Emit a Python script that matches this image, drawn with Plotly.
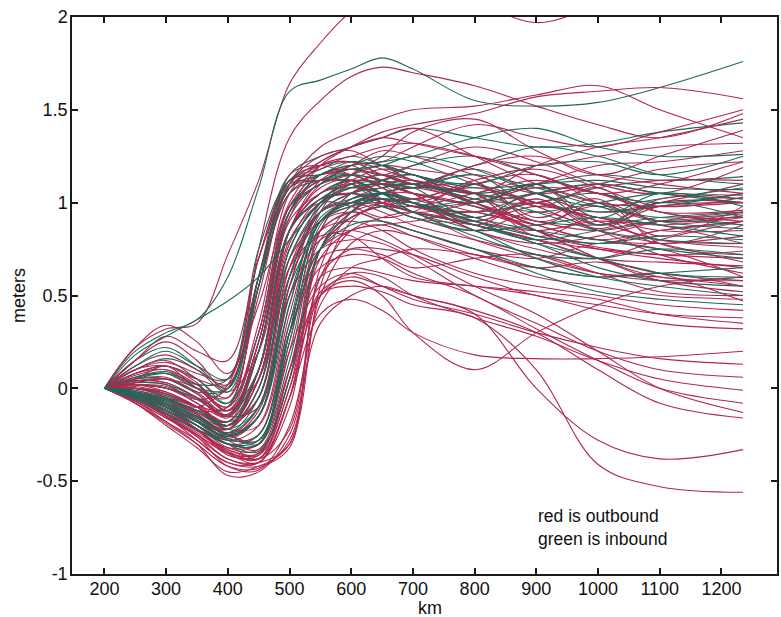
import plotly.graph_objects as go

# distance along track (km) at which each profile is sampled
km = [200, 250, 300, 350, 400, 450, 500, 550, 600, 650, 700, 800, 900, 1000, 1100, 1235]

# outbound profiles (red), meters
outbound = [
    [0, 0.22, 0.32, 0.35, 0.72, 1.12, 1.64, 1.86, 2.03, 2.12, 2.16, 2.08, 1.97, 2.06, 2.15, 2.22],
    [0, 0.05, 0.12, 0.0, -0.05, 0.75, 1.35, 1.55, 1.68, 1.73, 1.70, 1.63, 1.52, 1.42, 1.35, 1.48],
    [0, -0.02, -0.08, -0.12, -0.1, 0.55, 1.1, 1.3, 1.38, 1.45, 1.5, 1.52, 1.58, 1.63, 1.5, 1.35],
    [0, 0.03, 0.02, -0.08, -0.15, 0.25, 0.95, 1.2, 1.3, 1.38, 1.42, 1.48, 1.57, 1.6, 1.62, 1.56],
    [0, -0.05, -0.1, -0.18, -0.22, 0.0, 0.85, 1.1, 1.2, 1.22, 1.3, 1.42, 1.35, 1.3, 1.38, 1.50],
    [0, 0.1, 0.15, 0.05, -0.05, 0.5, 1.1, 1.25, 1.28, 1.2, 1.15, 1.05, 1.2, 1.3, 1.35, 1.45],
    [0, -0.03, -0.1, -0.2, -0.28, -0.2, 0.45, 0.95, 1.15, 1.25, 1.38, 1.45, 1.28, 1.15, 1.25, 1.39],
    [0, 0.0, -0.04, -0.1, -0.1, 0.6, 1.15, 1.2, 1.15, 1.1, 1.05, 1.0, 1.1, 1.2, 1.22, 1.28],
    [0, -0.06, -0.15, -0.25, -0.35, -0.35, 0.05, 0.85, 1.05, 1.12, 1.2, 1.3, 1.22, 1.1, 1.05, 1.19],
    [0, 0.12, 0.18, 0.1, 0.02, 0.55, 1.05, 1.15, 1.18, 1.15, 1.1, 1.18, 1.05, 0.95, 1.0, 1.1],
    [0, -0.04, -0.08, -0.15, -0.2, 0.05, 0.8, 1.0, 1.08, 1.1, 1.05, 0.88, 1.02, 0.86, 1.0, 1.0],
    [0, 0.02, 0.0, -0.06, 0.0, 0.6, 1.08, 1.12, 1.12, 1.05, 1.0, 1.1, 1.15, 1.0, 0.9, 0.95],
    [0, -0.08, -0.18, -0.28, -0.4, -0.4, -0.1, 0.75, 0.95, 1.02, 0.98, 0.9, 0.85, 0.9, 0.88, 0.92],
    [0, 0.06, 0.08, 0.0, -0.12, 0.1, 0.85, 1.05, 1.1, 1.15, 1.12, 1.05, 0.82, 0.92, 0.78, 0.88],
    [0, -0.02, -0.06, -0.12, -0.2, -0.05, 0.75, 1.0, 1.05, 0.98, 0.92, 0.85, 0.95, 0.85, 0.72, 0.62],
    [0, -0.05, -0.12, -0.2, -0.3, -0.3, 0.3, 0.9, 1.0, 1.05, 1.08, 1.0, 0.88, 0.8, 0.78, 0.82],
    [0, 0.1, 0.14, 0.08, 0.05, 0.7, 1.12, 1.15, 1.2, 1.1, 1.0, 0.92, 1.0, 0.9, 0.8, 0.78],
    [0, -0.03, -0.09, -0.18, -0.25, -0.1, 0.65, 0.95, 1.0, 0.95, 0.88, 0.8, 0.72, 0.62, 0.6, 0.55],
    [0, 0.0, -0.02, -0.1, -0.2, 0.1, 0.85, 1.0, 0.98, 0.92, 0.95, 1.1, 0.92, 1.02, 0.78, 0.72],
    [0, -0.07, -0.16, -0.25, -0.35, -0.4, -0.05, 0.6, 0.85, 0.92, 0.95, 0.88, 0.8, 0.75, 0.72, 0.7],
    [0, 0.04, 0.03, -0.05, -0.15, 0.25, 0.95, 1.1, 1.15, 1.2, 1.18, 1.12, 0.9, 0.98, 0.82, 0.98],
    [0, -0.02, -0.05, -0.1, -0.18, -0.05, 0.7, 0.95, 1.0, 1.02, 0.98, 0.95, 1.05, 1.1, 1.05, 1.02],
    [0, 0.15, 0.25, 0.15, -0.02, 0.2, 0.85, 1.05, 1.08, 1.05, 1.0, 0.85, 0.75, 0.7, 0.8, 0.9],
    [0, -0.06, -0.14, -0.24, -0.33, -0.35, 0.1, 0.75, 0.92, 0.98, 0.95, 0.8, 0.7, 0.62, 0.58, 0.6],
    [0, -0.03, -0.1, -0.2, -0.3, -0.25, 0.35, 0.75, 0.85, 0.88, 0.82, 0.7, 0.6, 0.55, 0.5, 0.48],
    [0, 0.02, -0.02, -0.1, -0.22, 0.0, 0.6, 0.85, 0.9, 0.85, 0.75, 0.62, 0.55, 0.5, 0.45, 0.42],
    [0, -0.08, -0.2, -0.32, -0.45, -0.42, -0.3, 0.6, 0.75, 0.75, 0.72, 0.6, 0.5, 0.45, 0.4, 0.38],
    [0, -0.05, -0.12, -0.22, -0.36, -0.36, 0.1, 0.6, 0.65, 0.62, 0.58, 0.55, 0.52, 0.48, 0.4, 0.35],
    [0, 0.08, 0.12, 0.03, -0.12, 0.05, 0.65, 0.82, 0.82, 0.7, 0.6, 0.55, 0.5, 0.42, 0.35, 0.32],
    [0, -0.04, -0.1, -0.18, -0.28, -0.25, 0.3, 0.7, 0.75, 0.72, 0.65, 0.7, 0.72, 0.62, 0.52, 0.5],
    [0, -0.06, -0.15, -0.25, -0.38, -0.4, -0.05, 0.4, 0.48, 0.42, 0.3, 0.18, 0.16, 0.16, 0.17, 0.2],
    [0, -0.02, -0.08, -0.18, -0.3, -0.3, 0.2, 0.55, 0.62, 0.55, 0.48, 0.4, 0.3, 0.22, 0.16, 0.13],
    [0, 0.03, 0.05, -0.02, -0.15, -0.1, 0.5, 0.75, 0.8, 0.78, 0.7, 0.5, 0.35, 0.2, 0.1, 0.06],
    [0, -0.05, -0.12, -0.22, -0.34, -0.38, 0.0, 0.5, 0.62, 0.6, 0.5, 0.38, 0.28, 0.15, 0.05, -0.01],
    [0, -0.03, -0.1, -0.2, -0.3, -0.3, 0.3, 0.65, 0.72, 0.7, 0.62, 0.5, 0.32, 0.15, 0.0, -0.08],
    [0, 0.0, -0.05, -0.14, -0.25, -0.15, 0.5, 0.8, 0.85, 0.8, 0.72, 0.55, 0.4, 0.2, 0.0, -0.13],
    [0, -0.07, -0.18, -0.3, -0.47, -0.45, -0.25, 0.35, 0.5, 0.55, 0.5, 0.42, 0.3, 0.1, -0.08, -0.16],
    [0, -0.04, -0.12, -0.22, -0.35, -0.38, 0.05, 0.52, 0.6, 0.55, 0.5, 0.4, 0.0, -0.28, -0.38, -0.33],
    [0, -0.06, -0.15, -0.28, -0.4, -0.42, -0.32, 0.5, 0.55, 0.52, 0.45, 0.38, 0.1, -0.41, -0.53, -0.56],
    [0, -0.05, -0.1, -0.2, -0.32, -0.33, 0.1, 0.5, 0.58, 0.5, 0.3, 0.1, 0.3, 0.45, 0.55, 0.6],
    [0, 0.05, 0.06, -0.03, -0.15, 0.2, 0.9, 1.05, 1.1, 1.02, 0.95, 1.0, 1.08, 1.05, 0.95, 0.9],
    [0, -0.01, -0.06, -0.13, -0.22, -0.2, 0.4, 0.9, 1.02, 1.08, 1.1, 1.0, 0.85, 0.7, 0.58, 0.52],
    [0, 0.22, 0.34, 0.25, 0.08, 0.45, 1.0, 1.2, 1.25, 1.3, 1.32, 1.25, 1.15, 1.05, 1.1, 1.22],
    [0, -0.04, -0.1, -0.16, -0.25, -0.28, 0.25, 0.85, 0.95, 1.0, 1.02, 1.08, 0.98, 0.85, 0.78, 0.68],
    [0, 0.02, 0.0, -0.08, -0.2, 0.05, 0.7, 0.9, 0.95, 0.9, 0.85, 0.75, 0.7, 0.78, 0.75, 0.6],
    [0, -0.06, -0.14, -0.22, -0.3, -0.38, -0.05, 0.7, 0.85, 0.88, 0.9, 0.95, 0.85, 0.75, 0.7, 0.65],
    [0, 0.08, 0.1, 0.02, -0.12, 0.2, 0.85, 1.02, 1.05, 1.1, 1.08, 1.2, 1.25, 1.15, 1.1, 1.05],
    [0, -0.02, -0.07, -0.14, -0.24, -0.15, 0.55, 0.95, 1.05, 1.12, 1.15, 1.0, 1.1, 0.88, 0.98, 1.0],
    [0, 0.0, -0.03, -0.1, -0.2, -0.05, 0.65, 0.9, 0.98, 1.0, 0.95, 0.9, 0.98, 0.92, 0.85, 0.85],
    [0, -0.05, -0.1, -0.18, -0.28, -0.33, 0.05, 0.75, 0.92, 0.98, 1.0, 0.85, 0.78, 0.82, 0.9, 0.95],
    [0, 0.03, 0.05, 0.0, -0.1, 0.35, 1.05, 1.22, 1.3, 1.35, 1.32, 1.25, 1.2, 1.25, 1.3, 1.32],
    [0, -0.03, -0.08, -0.15, -0.22, 0.1, 0.85, 1.12, 1.2, 1.28, 1.25, 1.15, 1.05, 1.1, 1.18, 1.22],
    [0, 0.15, 0.28, 0.2, 0.15, 0.7, 1.1, 1.22, 1.3, 1.35, 1.4, 1.25, 1.1, 1.0, 0.98, 1.0],
    [0, -0.02, -0.06, -0.1, 0.02, 0.6, 1.08, 1.2, 1.22, 1.15, 1.1, 1.0, 0.9, 0.85, 0.9, 0.92],
    [0, -0.07, -0.16, -0.26, -0.42, -0.44, -0.2, 0.45, 0.65, 0.7, 0.75, 0.72, 0.65, 0.6, 0.62, 0.55],
    [0, -0.04, -0.09, -0.17, -0.27, -0.15, 0.55, 0.98, 1.1, 1.15, 1.1, 1.05, 0.88, 1.0, 0.9, 0.93],
    [0, 0.07, 0.1, 0.0, -0.1, 0.3, 0.98, 1.15, 1.15, 1.08, 1.02, 1.12, 1.18, 1.08, 0.98, 1.03],
    [0, -0.05, -0.13, -0.23, -0.32, -0.3, 0.2, 0.85, 1.05, 1.1, 1.12, 1.0, 0.85, 0.78, 0.85, 0.9],
    [0, 0.01, -0.03, -0.1, -0.18, 0.1, 0.85, 1.08, 1.12, 1.0, 0.92, 0.88, 0.8, 0.7, 0.68, 0.66],
    [0, -0.02, -0.08, -0.16, -0.26, -0.12, 0.6, 1.0, 1.12, 1.18, 1.15, 1.05, 1.0, 0.9, 0.8, 0.76],
    [0, 0.04, 0.03, -0.05, -0.16, 0.2, 0.92, 1.15, 1.18, 1.12, 1.05, 0.9, 1.02, 0.88, 1.02, 1.04],
    [0, -0.06, -0.13, -0.22, -0.33, -0.36, 0.0, 0.75, 0.98, 1.05, 1.05, 0.98, 0.85, 0.7, 0.6, 0.58],
    [0, 0.02, 0.01, -0.06, -0.14, 0.25, 0.95, 1.12, 1.1, 1.0, 0.98, 1.05, 1.12, 1.05, 0.95, 0.96],
    [0, -0.03, -0.07, -0.13, -0.2, 0.05, 0.78, 1.02, 1.05, 1.02, 1.0, 0.92, 0.82, 0.76, 0.72, 0.74],
    [0, 0.1, 0.12, 0.05, 0.02, 0.6, 1.08, 1.18, 1.22, 1.18, 1.12, 1.02, 1.0, 1.08, 1.12, 1.12],
    [0, -0.05, -0.14, -0.26, -0.38, -0.4, -0.3, 0.55, 0.9, 1.0, 1.02, 0.95, 0.88, 0.8, 0.85, 0.9],
    [0, -0.03, -0.1, -0.22, -0.34, -0.38, -0.22, 0.65, 0.95, 1.05, 1.08, 1.1, 1.0, 0.92, 0.88, 0.78],
    [0, -0.08, -0.19, -0.3, -0.42, -0.43, -0.28, 0.5, 0.78, 0.85, 0.82, 0.72, 0.65, 0.68, 0.62, 0.47],
]

# inbound profiles (green), meters
inbound = [
    [0, 0.2, 0.3, 0.37, 0.6, 1.08, 1.6, 1.66, 1.72, 1.78, 1.72, 1.55, 1.52, 1.54, 1.62, 1.76],
    [0, 0.18, 0.28, 0.37, 0.47, 0.6, 0.8, 1.0, 1.15, 1.2, 1.15, 1.1, 1.2, 1.22, 1.15, 1.25],
    [0, 0.05, 0.08, 0.02, -0.08, 0.55, 1.15, 1.25, 1.3, 1.35, 1.4, 1.35, 1.3, 1.32, 1.38, 1.43],
    [0, -0.02, -0.06, -0.12, -0.18, 0.2, 0.95, 1.15, 1.2, 1.22, 1.25, 1.35, 1.4, 1.3, 1.25, 1.26],
    [0, 0.1, 0.16, 0.1, -0.02, 0.55, 1.12, 1.18, 1.25, 1.2, 1.12, 1.05, 1.1, 1.15, 1.12, 1.14],
    [0, -0.04, -0.1, -0.18, -0.26, -0.15, 0.6, 0.95, 1.05, 1.08, 1.1, 1.02, 0.95, 1.0, 1.05, 1.02],
    [0, 0.0, -0.03, -0.1, -0.18, 0.1, 0.85, 1.05, 1.12, 1.1, 1.05, 0.98, 0.9, 0.88, 0.92, 0.95],
    [0, -0.06, -0.14, -0.22, -0.3, -0.3, 0.3, 0.9, 0.98, 1.02, 1.0, 0.9, 0.78, 0.7, 0.62, 0.6],
    [0, 0.05, 0.05, -0.03, -0.15, 0.25, 0.95, 1.1, 1.15, 1.12, 1.08, 1.15, 0.98, 1.08, 0.88, 0.9],
    [0, -0.03, -0.08, -0.15, -0.22, -0.1, 0.6, 0.95, 1.02, 1.05, 1.0, 0.9, 0.82, 0.78, 0.82, 0.8],
    [0, 0.12, 0.2, 0.12, 0.05, 0.7, 1.1, 1.12, 1.18, 1.15, 1.2, 1.25, 1.15, 1.05, 1.0, 1.05],
    [0, -0.05, -0.12, -0.2, -0.28, -0.25, 0.35, 0.9, 1.0, 1.05, 1.02, 0.92, 0.85, 0.8, 0.75, 0.7],
    [0, 0.02, 0.0, -0.05, -0.12, 0.3, 0.98, 1.12, 1.15, 1.08, 1.0, 0.95, 1.0, 1.05, 0.95, 0.88],
    [0, -0.02, -0.07, -0.15, -0.25, -0.15, 0.5, 0.9, 1.0, 1.02, 0.95, 0.82, 0.72, 0.7, 0.75, 0.72],
    [0, 0.08, 0.12, 0.05, -0.08, 0.3, 0.98, 1.1, 1.2, 1.25, 1.22, 1.1, 1.0, 0.95, 0.98, 1.05],
    [0, -0.04, -0.1, -0.18, -0.27, -0.28, 0.3, 0.75, 0.88, 0.9, 0.85, 0.75, 0.65, 0.6, 0.62, 0.65],
    [0, 0.0, -0.04, -0.1, -0.2, 0.05, 0.75, 1.0, 1.05, 1.0, 0.95, 0.88, 0.8, 0.7, 0.62, 0.58],
    [0, -0.05, -0.11, -0.2, -0.3, -0.34, 0.05, 0.75, 0.95, 1.05, 1.08, 1.05, 0.95, 0.85, 0.8, 0.78],
    [0, 0.15, 0.22, 0.12, 0.0, 0.6, 1.12, 1.2, 1.22, 1.15, 1.1, 1.2, 1.3, 1.25, 1.15, 1.1],
    [0, -0.01, -0.05, -0.12, -0.2, 0.1, 0.85, 1.02, 1.1, 1.12, 1.15, 1.0, 1.1, 0.92, 1.05, 0.98],
    [0, 0.03, 0.02, -0.05, -0.15, 0.1, 0.85, 1.05, 1.12, 1.05, 0.98, 1.02, 1.08, 1.0, 0.9, 0.86],
    [0, -0.03, -0.09, -0.17, -0.26, -0.15, 0.45, 0.92, 1.0, 0.98, 0.92, 0.85, 0.88, 0.92, 0.88, 0.82],
    [0, -0.02, -0.06, -0.14, -0.24, -0.1, 0.55, 0.85, 0.95, 0.9, 0.85, 0.75, 0.62, 0.52, 0.48, 0.45],
    [0, 0.06, 0.08, 0.0, 0.0, 0.6, 1.08, 1.15, 1.22, 1.2, 1.15, 1.08, 1.1, 1.12, 1.08, 1.07],
    [0, -0.05, -0.1, -0.18, -0.25, -0.3, 0.15, 0.8, 0.92, 0.98, 0.95, 0.88, 0.78, 0.65, 0.58, 0.55],
    [0, -0.03, -0.08, -0.16, -0.24, -0.05, 0.7, 0.98, 1.08, 1.1, 1.08, 0.92, 1.05, 0.88, 1.0, 0.92],
    [0, 0.04, 0.05, -0.02, 0.0, 0.55, 1.05, 1.12, 1.15, 1.12, 1.1, 1.15, 1.08, 0.98, 0.92, 0.94],
    [0, -0.05, -0.12, -0.2, -0.3, -0.28, 0.25, 0.88, 1.02, 1.05, 1.0, 0.88, 0.8, 0.85, 0.9, 0.88],
    [0, 0.02, 0.0, -0.06, -0.14, 0.2, 0.92, 1.1, 1.12, 1.05, 0.98, 1.0, 1.05, 1.1, 1.05, 1.0],
    [0, -0.02, -0.06, -0.12, -0.2, 0.0, 0.75, 1.0, 1.08, 1.05, 0.95, 0.85, 0.7, 0.6, 0.55, 0.5],
    [0, 0.06, 0.09, 0.02, 0.05, 0.75, 1.12, 1.15, 1.18, 1.2, 1.25, 1.18, 1.05, 0.98, 1.02, 1.08],
]

x_ticks = [200, 300, 400, 500, 600, 700, 800, 900, 1000, 1100, 1200]
y_ticks = [-1, -0.5, 0, 0.5, 1, 1.5, 2]
y_ticklabels = ["-1", "-0.5", "0", "0.5", "1", "1.5", "2"]
note_text = "red is outbound<br>green is inbound"

RED = "#b0284f"
GREEN = "#1b6a5c"
FONT = "Liberation Sans, Arial, Helvetica, sans-serif"
LINE_W = 1.1

fig = go.Figure()

# interleave the two directions so neither colour sits entirely on top
for i in range(max(len(outbound), len(inbound))):
    if i < len(outbound):
        fig.add_trace(go.Scatter(x=km, y=outbound[i], mode="lines",
                                 line=dict(color=RED, width=LINE_W, shape="spline", smoothing=1.0),
                                 hoverinfo="skip", showlegend=False))
    if i < len(inbound) and i % 2 == 0:
        fig.add_trace(go.Scatter(x=km, y=inbound[i], mode="lines",
                                 line=dict(color=GREEN, width=LINE_W, shape="spline", smoothing=1.0),
                                 hoverinfo="skip", showlegend=False))
for i in range(len(inbound)):
    if i % 2 == 1:
        fig.add_trace(go.Scatter(x=km, y=inbound[i], mode="lines",
                                 line=dict(color=GREEN, width=LINE_W, shape="spline", smoothing=1.0),
                                 hoverinfo="skip", showlegend=False))

axis_common = dict(
    showline=True, linecolor="#1a1a1a", linewidth=1.5, mirror="ticks",
    ticks="inside", ticklen=6, tickwidth=1.5, tickcolor="#1a1a1a",
    showgrid=False, zeroline=False,
    tickfont=dict(family=FONT, size=18, color="#111"),
)

fig.update_xaxes(range=[147.5, 1290], tickvals=x_ticks, ticklabelstandoff=-2, **axis_common)
fig.update_yaxes(range=[-1, 2], tickvals=y_ticks, ticktext=y_ticklabels, ticklabelstandoff=-1, **axis_common)

fig.add_annotation(x=900, y=-0.75, xref="x", yref="y", text=note_text, showarrow=False,
                   xanchor="left", yanchor="middle", align="left",
                   font=dict(family=FONT, size=17.5, color="#111"))

fig.add_annotation(x=-0.076, y=0.5, xref="paper", yref="paper", text="meters", textangle=-90,
                   showarrow=False, xanchor="center", yanchor="middle",
                   font=dict(family=FONT, size=18, color="#111"))
fig.add_annotation(x=0.508, y=-0.061, xref="paper", yref="paper", text="km",
                   showarrow=False, xanchor="center", yanchor="middle",
                   font=dict(family=FONT, size=18, color="#111"))

fig.update_layout(
    width=781, height=617,
    margin=dict(l=72, r=2, t=17, b=43),
    paper_bgcolor="white", plot_bgcolor="white",
    showlegend=False,
)

fig.write_html("out.html")
